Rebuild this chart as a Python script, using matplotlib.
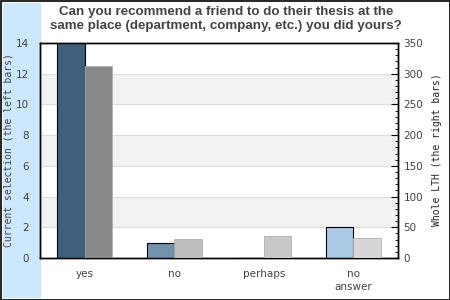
import matplotlib.pyplot as plt
from matplotlib.patches import Rectangle

categories = ["yes", "no", "perhaps", "no\nanswer"]
current = [14, 1, 0, 2]
whole = [313, 31, 36, 33]
current_colors = ["#3f5f7a", "#7393ad", "#8fb0cc", "#a9cbe6"]
whole_colors = ["#888888", "#bebebe", "#c8c8c8", "#d6d6d6"]

fig = plt.figure(figsize=(4.5, 3), dpi=100)
# light blue strip on the left and outer frame
fig.patches.append(Rectangle((3 / 450, 3 / 300), 37 / 450, 294 / 300,
                             transform=fig.transFigure, color="#cce8ff", zorder=0))
fig.patches.append(Rectangle((0.5 / 450, 0.5 / 300), 449 / 450, 299 / 300,
                             transform=fig.transFigure, fill=False,
                             edgecolor="black", lw=1.2, zorder=5))

ax = fig.add_axes([40 / 450, 42 / 300, 358 / 450, 215 / 300])
ax2 = ax.twinx()

for k in range(0, 14, 2):
    if (k // 2) % 2 == 1:
        ax.axhspan(k, k + 2, color="#f2f2f2", zorder=0, lw=0)
    ax.axhline(k, color="#dddddd", lw=0.8, zorder=0.5)

x = range(len(categories))
w = 0.31
ax.bar([i - w / 2 for i in x], current, w, color=current_colors,
       edgecolor="black", lw=0.8, zorder=3)
ax2.bar([i + w / 2 for i in x], whole, w, color=whole_colors,
        edgecolor="#b0b0b0", lw=0.6, zorder=3)

ax.set_xlim(-0.5, 3.5)
ax.set_ylim(0, 14)
ax2.set_ylim(0, 350)
ax.set_yticks(range(0, 15, 2))
ax2.set_yticks(range(0, 351, 50))
ax2.set_yticks(range(0, 351, 10), minor=True)
ax.set_xticks(list(x))
ax.set_xticklabels(categories, fontsize=7.5, color="#444444", linespacing=1.4)
ax.tick_params(axis="x", length=0, pad=8)
ax.tick_params(axis="y", length=0, labelsize=7.5, labelcolor="#444444", pad=8)
ax2.tick_params(axis="y", which="major", direction="in", length=5, width=0.8,
                labelsize=7.5, labelcolor="#444444", pad=4)
ax2.tick_params(axis="y", which="minor", direction="in", length=2.5, width=0.6)

for a in (ax, ax2):
    for s in a.spines.values():
        s.set_linewidth(1)
ax.patch.set_visible(False)
ax2.patch.set_visible(False)
ax.set_zorder(1)
ax2.set_zorder(2)

fig.text(9 / 450, 0.5, "Current selection (the left bars)", rotation=90,
         family="DejaVu Sans Mono", fontsize=7, color="#444444",
         ha="center", va="center")
fig.text(437 / 450, 0.5, "Whole LTH (the right bars)", rotation=90,
         family="DejaVu Sans Mono", fontsize=7, color="#222222",
         ha="center", va="center")
fig.text(226 / 450, 1 - 19 / 300,
         "Can you recommend a friend to do their thesis at the\n"
         "same place (department, company, etc.) you did yours?",
         ha="center", va="center", fontsize=9.6, fontweight="bold",
         family="Liberation Sans", color="#444444", linespacing=1.15)

fig.savefig("out.png", dpi=100)
